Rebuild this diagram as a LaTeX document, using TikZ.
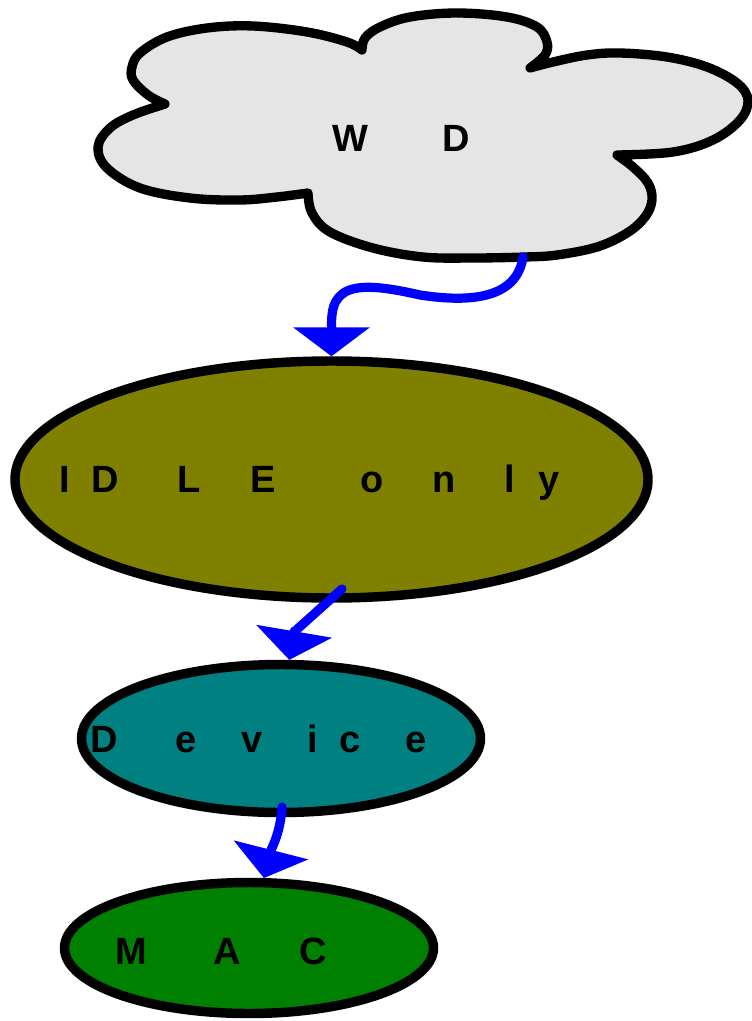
\documentclass[tikz,border=0pt]{standalone}
\usepackage{fontspec}
\setmainfont{Liberation Sans}
\usetikzlibrary{shapes.geometric,arrows.meta}
\definecolor{cloudgray}{HTML}{E5E5E5}
\definecolor{olivefill}{HTML}{808000}
\definecolor{tealfill}{HTML}{008080}
\definecolor{greenfill}{HTML}{008000}
\definecolor{edgeblue}{HTML}{0000FF}
\newcommand\lc[1]{\makebox[0pt]{#1}}
\begin{document}
\begin{tikzpicture}[x=0.75pt,y=-0.75pt,
  cloudline/.style={draw=black, fill=cloudgray, line width=7pt, line join=round},
  ell/.style={ellipse, draw=black, line width=7.1pt, inner sep=0pt},
  lbl/.style={inner sep=0pt, outer sep=0pt, anchor=base west, font=\fontsize{28.5}{30}\selectfont\bfseries},
  flow/.style={draw=edgeblue, line width=6.9pt, line cap=round, line join=round,
    -{Triangle[width=57.75pt,length=21.75pt,line width=0pt]}}
]
\useasboundingbox (0,0) rectangle (752,1021);

% cloud
\draw[cloudline]
  plot[smooth, tension=0.6] coordinates {(165,104) (148,95) (133,80) (132,67) (140,53) (167,37) (207,28) (253,26) (307,32) (347,42) (362,50)}
  -- plot[smooth, tension=0.6] coordinates {(362,50) (365,38) (380,27) (410,17) (457,13) (507,17) (537,27) (547,42) (545,55) (530,68)}
  -- plot[smooth, tension=0.6] coordinates {(530,68) (553,62) (587,55) (620,53) (667,57) (707,67) (737,83) (748,100) (740,120) (713,140) (673,152) (617,155)}
  -- plot[smooth, tension=0.6] coordinates {(617,155) (633,167) (648,183) (652,200) (645,217) (627,233) (597,247) (557,255) (525,257) (473,258) (423,257) (373,248) (330,232) (312,213) (308,193)}
  -- plot[smooth, tension=0.6] coordinates {(308,193) (277,197) (240,200) (190,198) (140,188) (107,168) (98,147) (110,128) (133,115) (165,104)}
  -- cycle;
\coordinate (wdout) at (523,257);

% ellipses
\node[ell, fill=olivefill, minimum width=474.75pt, minimum height=177.75pt] (idle) at (331.5,479.5) {};
\node[ell, fill=tealfill, minimum width=299.25pt, minimum height=111pt] (dev) at (281,738.5) {};
\node[ell, fill=greenfill, minimum width=276.75pt, minimum height=98.25pt] (mac) at (249,948) {};

\coordinate (idleout) at (342,589);
\coordinate (devout) at (282,807);

% labels
\node[lbl] (wd) at (350,151) {\lc{W}\hspace{79.5pt}\lc{D}};
\node[lbl] (idlelbl) at (65,492) {\lc{I}\hspace{30pt}\lc{D}\hspace{63pt}\lc{L}\hspace{55.5pt}\lc{E}\hspace{81.75pt}\lc{o}\hspace{54pt}\lc{n}\hspace{49.5pt}\lc{l}\hspace{29.25pt}\lc{y}};
\node[lbl] (devlbl) at (104,752) {\lc{D}\hspace{61.5pt}\lc{e}\hspace{49.875pt}\lc{v}\hspace{45pt}\lc{i}\hspace{28.125pt}\lc{c}\hspace{49.5pt}\lc{e}};
\node[lbl] (maclbl) at (131,964) {\lc{M}\hspace{72pt}\lc{A}\hspace{64.5pt}\lc{C}};

% connectors
\draw[flow] (wdout) .. controls (517,298) and (472,303) .. (420,295)
  .. controls (385,287) and (360,284) .. (345,292)
  .. controls (333,300) and (331.5,310) .. (idle.north);
\draw[flow] (idleout) -- (294,632) -- (dev.84);
\draw[flow] (devout) .. controls (281,825) and (276,840) .. (271,850) -- (mac.78);
\end{tikzpicture}
\end{document}
